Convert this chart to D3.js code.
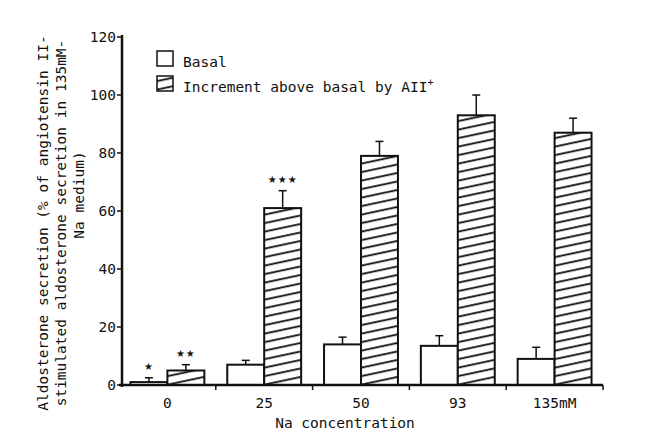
<!DOCTYPE html>
<html>
<head>
<meta charset="UTF-8">
<script src="https://d3js.org/d3.v7.min.js"></script>
<style>
  body { margin: 0; background: #fff; }
  svg { display: block; }
  text { font-family: 'DejaVu Sans Mono', monospace; fill: #111; }
</style>
</head>
<body>
<svg width="649" height="434"></svg>
<script>
// data
const groups = ["0", "25", "50", "93", "135mM"];
const basal = [1, 7, 14, 13.5, 9];
const basalErr = [1.5, 1.5, 2.5, 3.5, 4];
const increment = [5, 61, 79, 93, 87];
const incrementErr = [2, 6, 5, 7, 5];
const basalStars = ["*", "", "", "", ""];
const incrementStars = ["**", "***", "", "", ""];
const yTicks = [0, 20, 40, 60, 80, 100, 120];

const svg = d3.select("svg");

// hatch pattern: lines rising to the right
const defs = svg.append("defs");
const pat = defs.append("pattern")
  .attr("id", "hatch")
  .attr("patternUnits", "userSpaceOnUse")
  .attr("width", 40).attr("height", 8.5)
  .attr("patternTransform", "skewY(-12)");
pat.append("rect").attr("width", 40).attr("height", 8.5).attr("fill", "#fff");
pat.append("line")
  .attr("x1", 0).attr("x2", 40).attr("y1", 4).attr("y2", 4)
  .attr("stroke", "#111").attr("stroke-width", 1.7);

const x = d3.scaleBand().domain(groups).range([119, 603]);
const xs = d3.scaleBand().domain(["basal", "inc"]).range([0, x.bandwidth()])
  .paddingInner(0).paddingOuter(0.31);
const y = d3.scaleLinear().domain([0, 120]).range([385, 37]);

const rows = groups.map((g, i) => ({
  g: g,
  bars: [
    { k: "basal", v: basal[i], e: basalErr[i], s: basalStars[i] },
    { k: "inc", v: increment[i], e: incrementErr[i], s: incrementStars[i] }
  ]
}));

const gg = svg.append("g").selectAll("g").data(rows).enter().append("g")
  .attr("transform", d => `translate(${x(d.g)},0)`);

const bar = gg.selectAll("g").data(d => d.bars).enter().append("g");

// error bars (drawn first so the bar top covers the stem)
bar.append("line")
  .attr("x1", d => xs(d.k) + xs.bandwidth() / 2)
  .attr("x2", d => xs(d.k) + xs.bandwidth() / 2)
  .attr("y1", d => y(d.v)).attr("y2", d => y(d.v + d.e))
  .attr("stroke", "#111").attr("stroke-width", 1.5);
bar.append("line")
  .attr("x1", d => xs(d.k) + xs.bandwidth() / 2 - 4)
  .attr("x2", d => xs(d.k) + xs.bandwidth() / 2 + 4)
  .attr("y1", d => y(d.v + d.e)).attr("y2", d => y(d.v + d.e))
  .attr("stroke", "#111").attr("stroke-width", 1.5);

bar.append("rect")
  .attr("x", d => xs(d.k))
  .attr("width", xs.bandwidth())
  .attr("y", d => y(d.v))
  .attr("height", d => y(0) - y(d.v))
  .attr("fill", d => d.k === "basal" ? "#fff" : "url(#hatch)")
  .attr("stroke", "#111").attr("stroke-width", 2);

bar.append("text")
  .attr("x", d => xs(d.k) + xs.bandwidth() / 2)
  .attr("y", d => y(d.v + d.e) - 8)
  .attr("text-anchor", "middle")
  .style("font-family", "'DejaVu Sans', sans-serif")
  .style("font-size", "10px")
  .style("letter-spacing", "1px")
  .text(d => d.s.replace(/\*/g, "\u2605"));

// x axis
const xAxis = svg.append("g").attr("transform", `translate(0,${y(0)})`);
xAxis.append("line").attr("x1", 119).attr("x2", 603)
  .attr("stroke", "#111").attr("stroke-width", 2.5);
xAxis.selectAll(".tk").data(groups).enter().append("line")
  .attr("x1", d => x(d) + x.bandwidth()).attr("x2", d => x(d) + x.bandwidth())
  .attr("y1", 0).attr("y2", 5)
  .attr("stroke", "#111").attr("stroke-width", 1.5);
xAxis.selectAll(".lb").data(groups).enter().append("text")
  .attr("x", d => x(d) + x.bandwidth() / 2)
  .attr("y", 23)
  .attr("text-anchor", "middle")
  .style("font-size", "14.5px")
  .text(d => d);

svg.append("text")
  .attr("x", 345).attr("y", 428)
  .attr("text-anchor", "middle")
  .style("font-size", "14.5px")
  .text("Na concentration");

// y axis
const yAxis = svg.append("g").attr("transform", "translate(122,0)");
yAxis.append("line").attr("y1", y(120) - 2).attr("y2", y(0) + 2)
  .attr("stroke", "#111").attr("stroke-width", 2.5);
yAxis.selectAll(".tk").data(yTicks).enter().append("line")
  .attr("x1", -5).attr("x2", 0)
  .attr("y1", d => y(d)).attr("y2", d => y(d))
  .attr("stroke", "#111").attr("stroke-width", 1.5);
yAxis.selectAll(".lb").data(yTicks).enter().append("text")
  .attr("x", -6).attr("y", d => y(d) + 5)
  .attr("text-anchor", "end")
  .style("font-size", "14.5px")
  .text(d => d);

// y title, three lines rotated
const yTitle = [
  { t: "Aldosterone secretion (% of angiotensin II-", x: 48, c: 223 },
  { t: "stimulated aldosterone secretion in 135mM-", x: 66, c: 223 },
  { t: "Na medium)", x: 84, c: 195 }
];
svg.selectAll(".yt").data(yTitle).enter().append("text")
  .attr("transform", d => `translate(${d.x},${d.c}) rotate(-90)`)
  .attr("text-anchor", "middle")
  .style("font-size", "14.5px")
  .text(d => d.t);

// legend
const legend = svg.append("g");
legend.append("rect").attr("x", 157).attr("y", 51).attr("width", 16).attr("height", 15)
  .attr("fill", "#fff").attr("stroke", "#111").attr("stroke-width", 1.5);
legend.append("rect").attr("x", 157).attr("y", 76).attr("width", 16).attr("height", 15)
  .attr("fill", "url(#hatch)").attr("stroke", "#111").attr("stroke-width", 1.5);
legend.append("text").attr("x", 183).attr("y", 67)
  .style("font-size", "14.5px").text("Basal");
const lt = legend.append("text").attr("x", 183).attr("y", 92)
  .style("font-size", "14.5px").text("Increment above basal by AII");
lt.append("tspan").attr("dy", -6).style("font-size", "10px").text("+");
</script>
</body>
</html>
